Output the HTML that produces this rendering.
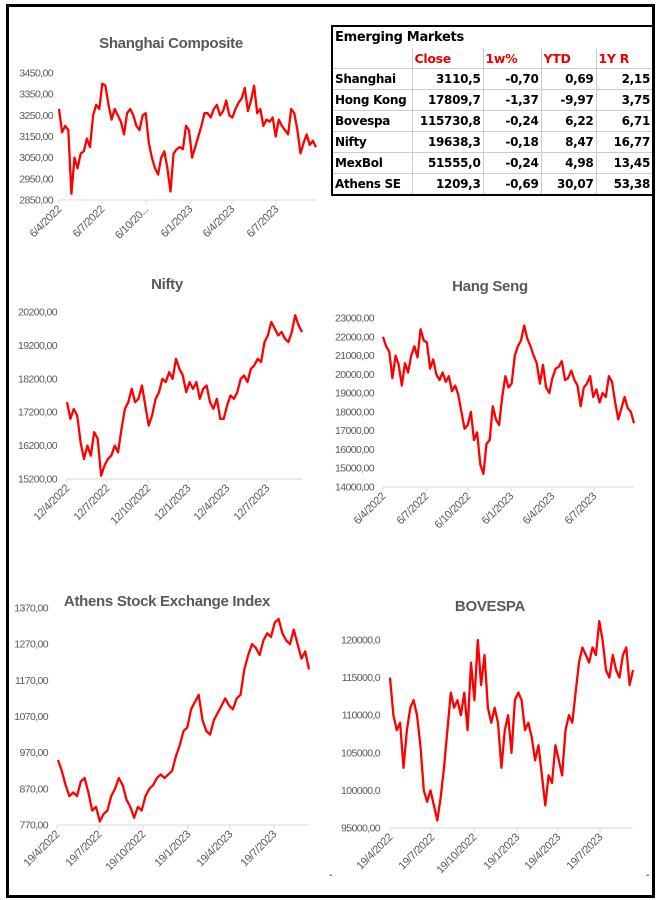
<!DOCTYPE html>
<html><head><meta charset="utf-8">
<style>
html,body{margin:0;padding:0;background:#fff;}
#wrap{position:relative;width:658px;height:900px;overflow:hidden;font-family:"Liberation Sans",sans-serif;}
#frame{position:absolute;left:6px;top:4px;width:643px;height:888px;border:3px solid #000;}
svg{position:absolute;left:0;top:0;}
#tbl{position:absolute;left:331px;top:25px;width:321px;table-layout:fixed;border-collapse:collapse;border:2px solid #000;font-family:"DejaVu Sans","Liberation Sans",sans-serif;font-weight:bold;font-size:12px;letter-spacing:-0.3px;}
#tbl td{border:1px solid #ccc;height:20px;padding:0 2px;white-space:nowrap;overflow:hidden;}
#tbl td.n{text-align:right;}
#tbl tr.h td{color:#e00;font-size:12.5px;}
#tbl tr.t td{font-size:13px;border-bottom-color:#fff;}
</style></head><body>
<div id="wrap">
<div id="frame"></div>
<svg id="charts" width="658" height="900"></svg>
<table id="tbl">
<colgroup><col style="width:80px"><col style="width:71px"><col style="width:58px"><col style="width:55px"><col style="width:57px"></colgroup>
<tr class="t"><td colspan="5">Emerging Markets</td></tr>
<tr class="h"><td></td><td>Close</td><td>1w%</td><td>YTD</td><td>1Y R</td></tr>
<tr><td>Shanghai</td><td class="n">3110,5</td><td class="n">-0,70</td><td class="n">0,69</td><td class="n">2,15</td></tr>
<tr><td>Hong Kong</td><td class="n">17809,7</td><td class="n">-1,37</td><td class="n">-9,97</td><td class="n">3,75</td></tr>
<tr><td>Bovespa</td><td class="n">115730,8</td><td class="n">-0,24</td><td class="n">6,22</td><td class="n">6,71</td></tr>
<tr><td>Nifty</td><td class="n">19638,3</td><td class="n">-0,18</td><td class="n">8,47</td><td class="n">16,77</td></tr>
<tr><td>MexBol</td><td class="n">51555,0</td><td class="n">-0,24</td><td class="n">4,98</td><td class="n">13,45</td></tr>
<tr><td>Athens SE</td><td class="n">1209,3</td><td class="n">-0,69</td><td class="n">30,07</td><td class="n">53,38</td></tr>
</table>
</div>
<script>
const shanghaiValues=[3280,3170,3200,3180,2880,3050,3000,3070,3080,3140,3100,3250,3300,3280,3400,3390,3300,3230,3280,3250,3220,3160,3260,3280,3250,3200,3180,3250,3260,3120,3050,3000,2970,3050,3080,3000,2890,3070,3090,3100,3090,3200,3180,3050,3100,3150,3200,3260,3260,3240,3280,3300,3250,3270,3320,3250,3240,3280,3310,3330,3380,3270,3320,3390,3260,3280,3200,3230,3220,3240,3150,3230,3200,3180,3160,3280,3260,3180,3070,3120,3160,3110,3130,3100];
const shanghaiYTicks=[2850,2950,3050,3150,3250,3350,3450];
const shanghaiYLabels=["2850,00","2950,00","3050,00","3150,00","3250,00","3350,00","3450,00"];
const shanghaiXLabels=["6/4/2022","6/7/2022","6/10/20...","6/1/2023","6/4/2023","6/7/2023"];

const niftyValues=[17500,17000,17300,17100,16300,15800,16200,15900,16600,16400,15300,15600,15800,15900,16200,16000,16700,17300,17500,17900,17500,17600,18000,17400,16800,17100,17600,17800,18200,18100,18400,18200,18800,18500,18300,17800,18100,17900,18100,17600,17900,18000,17500,17300,17600,17000,17000,17400,17700,17600,17800,18200,18300,18100,18500,18600,18800,18700,19300,19500,19900,19700,19500,19600,19400,19300,19600,20100,19800,19600];
const niftyYTicks=[15200,16200,17200,18200,19200,20200];
const niftyYLabels=["15200,00","16200,00","17200,00","18200,00","19200,00","20200,00"];
const niftyXLabels=["12/4/2022","12/7/2022","12/10/2022","12/1/2023","12/4/2023","12/7/2023"];

const hangSengValues=[22000,21500,21200,19800,21000,20500,19400,20600,20100,21000,21500,20900,22400,21800,21700,20300,20800,20000,19700,20100,19600,19900,19100,19400,18900,18000,17100,17300,18000,16500,16900,15200,14700,16300,16500,18300,17600,17300,18800,19900,19300,19500,21000,21500,21800,22600,21900,21500,21000,20600,19500,20500,19300,19000,19800,20300,20400,20700,19700,19800,20200,19700,19400,18300,19300,19500,19900,18800,19200,18500,19000,18800,19900,19600,18500,17600,18200,18800,18200,18000,17400];
const hangSengYTicks=[14000,15000,16000,17000,18000,19000,20000,21000,22000,23000];
const hangSengYLabels=["14000,00","15000,00","16000,00","17000,00","18000,00","19000,00","20000,00","21000,00","22000,00","23000,00"];
const hangSengXLabels=["6/4/2022","6/7/2022","6/10/2022","6/1/2023","6/4/2023","6/7/2023"];

const athensValues=[950,920,880,850,860,850,890,900,860,810,820,780,800,810,850,870,900,880,840,820,790,820,810,850,870,880,900,910,900,910,920,960,990,1030,1040,1090,1110,1130,1060,1030,1020,1060,1080,1100,1120,1100,1090,1120,1130,1200,1240,1270,1260,1240,1280,1300,1290,1330,1340,1300,1280,1270,1310,1270,1230,1250,1200];
const athensYTicks=[770,870,970,1070,1170,1270,1370];
const athensYLabels=["770,00","870,00","970,00","1070,00","1170,00","1270,00","1370,00"];
const athensXLabels=["19/4/2022","19/7/2022","19/10/2022","19/1/2023","19/4/2023","19/7/2023"];

const bovespaValues=[115000,110000,108000,109000,103000,108000,111000,112000,110000,106000,100000,98500,100000,98000,96000,99000,103000,108000,113000,111000,112000,110000,113000,108000,117000,112000,120000,114000,118000,111000,109000,111000,109000,103000,108000,110000,105000,112000,113000,112000,108000,109000,107000,104000,106000,102000,98000,102000,101000,106000,104000,102000,108000,110000,109000,113000,117000,119000,118000,117000,119000,118000,122500,120000,116000,115000,118000,116000,115000,118000,119000,114000,116000];
const bovespaYTicks=[95000,100000,105000,110000,115000,120000];
const bovespaYLabels=["95000,00","100000,0","105000,0","110000,0","115000,0","120000,0"];
const bovespaXLabels=["19/4/2022","19/7/2022","19/10/2022","19/1/2023","19/4/2023","19/7/2023"];

const NS="http://www.w3.org/2000/svg";
const svg=document.getElementById('charts');
function mk(tag,attrs,parent){const e=document.createElementNS(NS,tag);for(const k in attrs)e.setAttribute(k,attrs[k]);(parent||svg).appendChild(e);return e;}

function drawChart(name,title,titleX,titleY,values,yTicks,yLabels,xLabels,x0,x1,xTicks,yTop,yBot,labelRight){
  const g=mk('g',{});
  
  
  const vMin=yTicks[0],vMax=yTicks[yTicks.length-1];
  const ys=v=>yBot-(v-vMin)/(vMax-vMin)*(yBot-yTop);
  const xs=i=>x0+i/(values.length-1)*(x1-x0);
  const t=mk('text',{x:titleX,y:titleY,'text-anchor':'middle','font-size':'15','font-weight':'bold',fill:'#595959','font-family':'Liberation Sans, sans-serif','letter-spacing':'-0.3'},g);
  t.textContent=title;
  
  
  yTicks.forEach((v,i)=>{
    const l=mk('text',{x:labelRight,y:ys(v)+3.5,'text-anchor':'end','font-size':'10.5',fill:'#595959','font-family':'Liberation Sans, sans-serif','letter-spacing':'-0.6'},g);
    l.textContent=yLabels[i];
    
    
  });
  const ax=mk('line',{x1:x0,x2:x1,y1:yBot,y2:yBot,stroke:'#d9d9d9','stroke-width':1},g);
  
  
  xLabels.forEach((lab,i)=>{
    const tx=xTicks[i];
    const tk=mk('line',{x1:tx,x2:tx,y1:yBot,y2:yBot+4,stroke:'#d9d9d9','stroke-width':1},g);
    
    
    const l=mk('text',{x:tx+3,y:yBot+10,'text-anchor':'end','font-size':'11',fill:'#595959','font-family':'Liberation Sans, sans-serif','letter-spacing':'-0.4',transform:'rotate(-45 '+(tx+3)+' '+(yBot+10)+')'},g);
    l.textContent=lab;
    
    
  });
  const pts=values.map((v,i)=>xs(i).toFixed(1)+','+ys(v).toFixed(1)).join(' ');
  const p=mk('polyline',{points:pts,fill:'none',stroke:'#ff0000','stroke-width':2.3,'stroke-linejoin':'round'},g);
  
  
}
drawChart('shanghai','Shanghai Composite',171,48,shanghaiValues,shanghaiYTicks,shanghaiYLabels,shanghaiXLabels,59,316,[59,102,146,190,232,276],73,200,53);
drawChart('nifty','Nifty',167,289,niftyValues,niftyYTicks,niftyYLabels,niftyXLabels,67,302,[67,107,148,188,227,267],312,479,57);
drawChart('hang-seng','Hang Seng',490,291,hangSengValues,hangSengYTicks,hangSengYLabels,hangSengXLabels,383,634,[383,426,468,511,552,594],318,487,374);
drawChart('athens','Athens Stock Exchange Index',167,606,athensValues,athensYTicks,athensYLabels,athensXLabels,58,309,[57,99,143,188,230,274],608,825,48);
drawChart('bovespa','BOVESPA',490,611,bovespaValues,bovespaYTicks,bovespaYLabels,bovespaXLabels,390,633,[390,432,474,517,558,600],640,828,380);
const d1=mk('text',{x:329,y:878,'font-size':'10',fill:'#000'});d1.textContent='-';


const d2=mk('text',{x:646,y:878,'font-size':'10',fill:'#000'});d2.textContent='-';


</script>
</body></html>
